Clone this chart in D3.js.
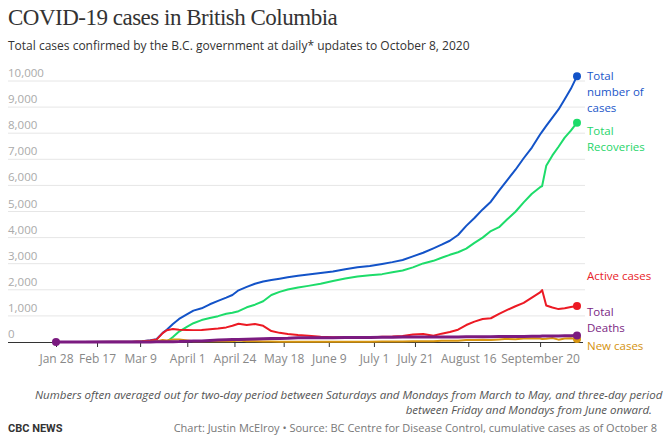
<!DOCTYPE html>
<html>
<head>
<meta charset="utf-8">
<script src="https://cdn.jsdelivr.net/npm/d3@7"></script>
<style>
  html, body { margin: 0; padding: 0; background: #fff; }
  svg { display: block; font-family: "Open Sans", "Noto Sans", sans-serif; }
</style>
</head>
<body>
<svg id="chart" width="663" height="442"></svg>
<script>
// ---- data ----
const dates = ["2020-01-28","2020-02-10","2020-02-24","2020-03-05","2020-03-10","2020-03-14","2020-03-17","2020-03-20","2020-03-22","2020-03-25","2020-03-28","2020-04-01","2020-04-04","2020-04-08","2020-04-12","2020-04-16","2020-04-20","2020-04-23","2020-04-26","2020-04-30","2020-05-04","2020-05-08","2020-05-12","2020-05-16","2020-05-20","2020-05-25","2020-05-30","2020-06-05","2020-06-11","2020-06-17","2020-06-23","2020-06-29","2020-07-05","2020-07-10","2020-07-15","2020-07-20","2020-07-25","2020-07-30","2020-08-03","2020-08-07","2020-08-11","2020-08-15","2020-08-19","2020-08-23","2020-08-27","2020-08-31","2020-09-04","2020-09-08","2020-09-12","2020-09-16","2020-09-20","2020-09-21","2020-09-23","2020-09-26","2020-09-29","2020-10-02","2020-10-05","2020-10-08"];

const totalCases = [1,4,6,13,32,64,103,350,470,690,884,1066,1203,1291,1445,1575,1699,1800,1980,2110,2230,2315,2375,2425,2480,2540,2590,2640,2700,2790,2860,2910,2990,3060,3140,3280,3420,3590,3730,3880,4100,4450,4750,5080,5375,5800,6200,6600,7040,7450,7950,8060,8280,8600,8910,9300,9700,10185];

const totalRecoveries = [0,0,0,0,0,0,4,4,10,190,400,590,720,840,920,990,1080,1120,1180,1330,1430,1560,1800,1920,2010,2090,2150,2230,2340,2430,2510,2560,2600,2670,2740,2860,3010,3110,3230,3340,3440,3580,3800,4000,4250,4400,4700,4990,5350,5680,5930,5975,6750,7150,7480,7830,8100,8405];

const activeCases = [1,4,6,13,28,60,92,338,450,495,467,460,455,460,490,520,560,620,700,650,690,620,420,350,310,270,240,200,185,180,175,175,200,210,230,290,310,240,320,380,470,650,780,880,910,1080,1230,1370,1500,1700,1900,1990,1400,1320,1260,1290,1340,1380];

const totalDeaths = [0,0,0,0,4,4,7,8,10,14,17,31,38,43,58,75,87,94,100,104,114,124,130,135,141,161,164,166,167,168,168,174,183,185,187,189,191,195,195,195,196,198,200,203,205,209,210,213,215,220,223,227,230,233,234,238,244,248];

const newCases = [1,0,0,4,5,11,30,77,62,92,92,53,29,25,40,28,25,29,60,30,26,18,16,10,14,9,9,8,12,13,11,12,20,15,20,30,28,30,45,48,46,78,80,85,78,100,120,110,130,140,130,115,125,150,90,130,140,119];

const yTicks = [0,1000,2000,3000,4000,5000,6000,7000,8000,9000,10000];
const xTickDates = ["2020-01-28","2020-02-17","2020-03-09","2020-04-01","2020-04-24","2020-05-18","2020-06-09","2020-07-01","2020-07-21","2020-08-16","2020-09-20"];
const xTickLabels = ["Jan 28","Feb 17","Mar 9","April 1","April 24","May 18","June 9","July 1","July 21","August 16","September 20"];

const seriesNames = ["Total number of cases","Total Recoveries","Active cases","New cases","Total Deaths"];
const seriesColors = ["#1353c8","#1ddc6a","#ec1a24","#d8960f","#7b1b80"];
const labelColors = ["#1a56c9","#1fd56a","#e8232a","#d4920f","#7b2683"];

// ---- chart ----
const parse = d3.timeParse("%Y-%m-%d");
const dts = dates.map(parse);
const svg = d3.select("#chart");
svg.append("rect").attr("width", 663).attr("height", 442).attr("fill", "#fff");

const x = d3.scaleTime().domain([parse("2020-01-28"), parse("2020-10-08")]).range([56, 577]);
const y = d3.scaleLinear().domain([0, 10000]).range([342, 81]);

// title & subtitle
svg.append("text").attr("x", 8).attr("y", 25)
  .attr("font-family", "'Liberation Serif', 'DejaVu Serif', serif")
  .attr("font-size", 23).attr("fill", "#333").attr("letter-spacing", -0.5)
  .text("COVID-19 cases in British Columbia");
svg.append("text").attr("x", 8).attr("y", 50)
  .attr("font-size", 12).attr("fill", "#333")
  .text("Total cases confirmed by the B.C. government at daily* updates to October 8, 2020");

// gridlines + y labels
const gy = svg.append("g");
gy.selectAll("line").data(yTicks.filter(d => d > 0)).join("line")
  .attr("x1", 8).attr("x2", 585)
  .attr("y1", d => y(d)).attr("y2", d => y(d))
  .attr("stroke", "#e6e6e6").attr("stroke-width", 1);
gy.selectAll("text").data(yTicks).join("text")
  .attr("x", 8).attr("y", d => y(d) - 4)
  .attr("font-size", 11.5).attr("fill", "#aaa")
  .text(d => d3.format(",")(d));

// x axis
const xAxis = d3.axisBottom(x)
  .tickValues(xTickDates.map(parse))
  .tickFormat((d, i) => xTickLabels[i])
  .tickSize(5).tickSizeOuter(0);
const gx = svg.append("g").attr("transform", "translate(0,342)").call(xAxis);
gx.select(".domain").remove();
gx.selectAll(".tick line").attr("stroke", "#333");
gx.selectAll(".tick text").attr("font-size", 12).attr("fill", "#888")
  .attr("font-family", "'Open Sans', sans-serif").attr("dy", "1.1em");
svg.append("line").attr("x1", 8).attr("x2", 583).attr("y1", 342.5).attr("y2", 342.5)
  .attr("stroke", "#333").attr("stroke-width", 1);

// lines
const allSeries = [totalCases, totalRecoveries, activeCases, newCases, totalDeaths];
const widths = [2, 2, 2, 2, 3];
const line = d3.line().x((d, i) => x(dts[i])).y(d => y(d));
allSeries.forEach((vals, k) => {
  svg.append("path").datum(vals)
    .attr("d", line).attr("fill", "none")
    .attr("stroke", seriesColors[k]).attr("stroke-width", widths[k])
    .attr("stroke-linejoin", "round").attr("stroke-linecap", "round");
});
// end dots
allSeries.forEach((vals, k) => {
  svg.append("circle").attr("cx", x(dts[dts.length - 1])).attr("cy", y(vals[vals.length - 1]))
    .attr("r", 4).attr("fill", seriesColors[k]);
});
// start dot for deaths
svg.append("circle").attr("cx", x(dts[0])).attr("cy", y(totalDeaths[0])).attr("r", 4).attr("fill", seriesColors[4]);

// right labels (one text element per line)
const labelLines = [["Total","number of","cases"],["Total","Recoveries"],["Active cases"],["New cases"],["Total","Deaths"]];
const labelY = [80, 135, 280, 350, 316];
labelLines.forEach((ls, k) => {
  ls.forEach((s, j) => {
    svg.append("text").attr("x", 587).attr("y", labelY[k] + j * 15.8)
      .attr("font-size", 11.5).attr("fill", labelColors[k]).text(s);
  });
});

// notes
svg.append("text").attr("x", 35).attr("y", 399)
  .attr("font-size", 11.5).attr("font-style", "italic").attr("fill", "#555")
  .text("Numbers often averaged out for two-day period between Saturdays and Mondays from March to May, and three-day period");
svg.append("text").attr("x", 652).attr("y", 414).attr("text-anchor", "end")
  .attr("font-size", 11.5).attr("font-style", "italic").attr("fill", "#555")
  .text("between Friday and Mondays from June onward.");

// footer
svg.append("text").attr("x", 8).attr("y", 432)
  .attr("font-family", "'Liberation Sans Narrow', 'Roboto', sans-serif")
  .attr("font-weight", "bold").attr("font-size", 11).attr("fill", "#333")
  .text("CBC NEWS");
svg.append("text").attr("x", 657).attr("y", 432).attr("text-anchor", "end")
  .attr("font-size", 11).attr("fill", "#777")
  .text("Chart: Justin McElroy \u2022 Source: BC Centre for Disease Control, cumulative cases as of October 8");
</script>
</body>
</html>
